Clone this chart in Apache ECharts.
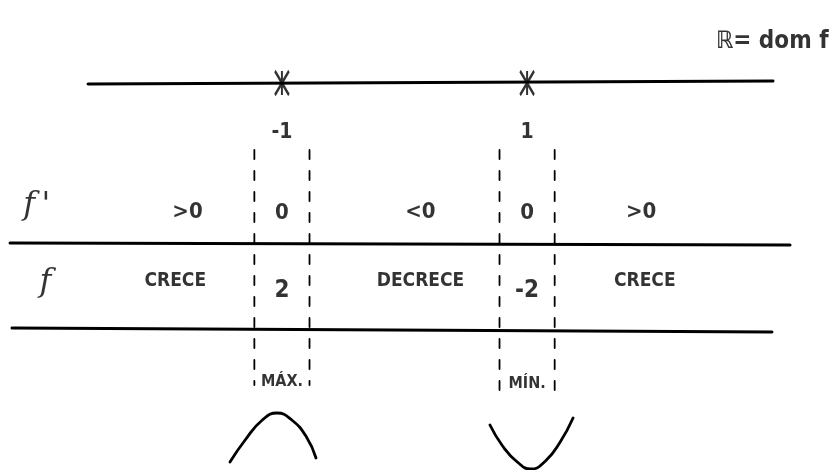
<!DOCTYPE html>
<html><head><meta charset="utf-8">
<script src="https://cdn.jsdelivr.net/npm/echarts@6/dist/echarts.min.js"></script>
<style>html,body{margin:0;padding:0;background:#fff}#c{width:836px;height:470px}</style>
</head><body><div id="c"></div>
<script>
// ---- data ----
const criticalPoints = [-1, 1];
const criticalLabels = ['-1', '1'];
const derivativeSigns = ['>0', '0', '<0', '0', '>0'];
const behaviour = ['CRECE', 'DECRECE', 'CRECE'];
const extremeValues = ['2', '-2'];
const extremeTypes = ['MÁX.', 'MÍN.'];
const domainLabel = 'ℝ= dom f';
// sketched shapes of f near the extrema (x, row)
const maxArc = [[-1.424, 462], [-1.30, 440], [-1.16, 420], [-1.04, 413], [-0.92, 420], [-0.80, 437], [-0.722, 458]];
const minArc = [[0.697, 425], [0.80, 446], [0.92, 462], [1.03, 469], [1.15, 461], [1.27, 442], [1.375, 418]];

// ---- layout ----
const xMin = -3.3, xMax = 3.52;
const rowAxis = 83, rowCrit = 133, rowDeriv = 212, rowF = 281, rowExt = 382;
const intervalX = [-1.77, 0.13, 1.93];
const dashHalf = 0.225;
const ink = '#000000';
const font = '"DejaVu Sans Condensed","DejaVu Sans",sans-serif';

function lineSeries(data, width, type) {
  return {type: 'line', data: data, symbol: 'none', silent: true,
    lineStyle: {color: ink, width: width, type: type || 'solid', cap: 'round'}};
}
function textSeries(items, size, extra) {
  return {type: 'scatter', symbolSize: 1, silent: true, itemStyle: {color: 'rgba(0,0,0,0)'},
    data: items.map(it => ({value: [it[0], it[1]], label: Object.assign({show: true, position: 'inside',
      formatter: it[2], color: ink, fontSize: size, fontFamily: font, fontWeight: 'bold'}, extra || {})}))};
}

const series = [];
// horizontal lines
series.push(lineSeries([[-2.582, 84], [3.006, 81]], 3));
series.push(lineSeries([[-3.218, 243], [3.145, 245]], 3));
series.push(lineSeries([[-3.202, 328], [2.998, 332]], 3));
// dashed guides around critical points
criticalPoints.forEach((c, i) => {
  const end = i === 0 ? 385 : 398;
  series.push(lineSeries([[c - dashHalf, 150], [c - dashHalf, end]], 1.8, [9, 12]));
  series.push(lineSeries([[c + dashHalf, 150], [c + dashHalf, end]], 1.8, [9, 12]));
});
// asterisks on the real line
series.push({type: 'scatter', silent: true, data: criticalPoints.map(c => [c, rowAxis]),
  symbol: 'path://M0 0L10 22M10 0L0 22M5 0L5 22', symbolSize: [14, 24],
  itemStyle: {color: 'none', borderColor: ink, borderWidth: 2.6}});
// critical labels
series.push(textSeries(criticalPoints.map((c, i) => [c, rowCrit, criticalLabels[i]]), 21));
// derivative row
const derivX = [intervalX[0], criticalPoints[0], intervalX[1], criticalPoints[1], intervalX[2]];
series.push(textSeries(derivativeSigns.map((s, i) => [derivX[i], rowDeriv + (s === '0' ? 1 : 0), s]), s => 22));
// f row
series.push(textSeries(behaviour.map((s, i) => [intervalX[i] + (i === 0 ? -0.1 : (i === 2 ? 0.03 : 0)), rowF, s]), 19));
series.push(textSeries(extremeValues.map((s, i) => [criticalPoints[i], rowF + 10, s]), 24));
// extrema type
series.push(textSeries(extremeTypes.map((s, i) => [criticalPoints[i], rowExt + i * 2, s]), 16));
// row labels
series.push(textSeries([[-3.0, 206, "f\u2009'"], [-2.93, 283, 'f']], 32, {fontFamily: '"DejaVu Serif",serif', fontStyle: 'italic', fontWeight: 'normal'}));
// domain note
series.push(textSeries([[3.0, 42, domainLabel]], 24));
// arcs
series.push(Object.assign(lineSeries(maxArc, 2.8), {smooth: true}));
series.push(Object.assign(lineSeries(minArc, 2.8), {smooth: true}));

// fix derivative font size (function placeholder above)
series.forEach(s => { if (s.type === 'scatter' && s.data && s.data[0] && s.data[0].label && typeof s.data[0].label.fontSize === 'function') s.data.forEach(d => d.label.fontSize = 22); });

const chart = echarts.init(document.getElementById('c'));
chart.setOption({
  animation: false,
  grid: {left: 0, right: 0, top: 0, bottom: 0},
  xAxis: {type: 'value', min: xMin, max: xMax, show: false},
  yAxis: {type: 'value', min: 0, max: 470, inverse: true, show: false},
  series: series
});
</script></body></html>
